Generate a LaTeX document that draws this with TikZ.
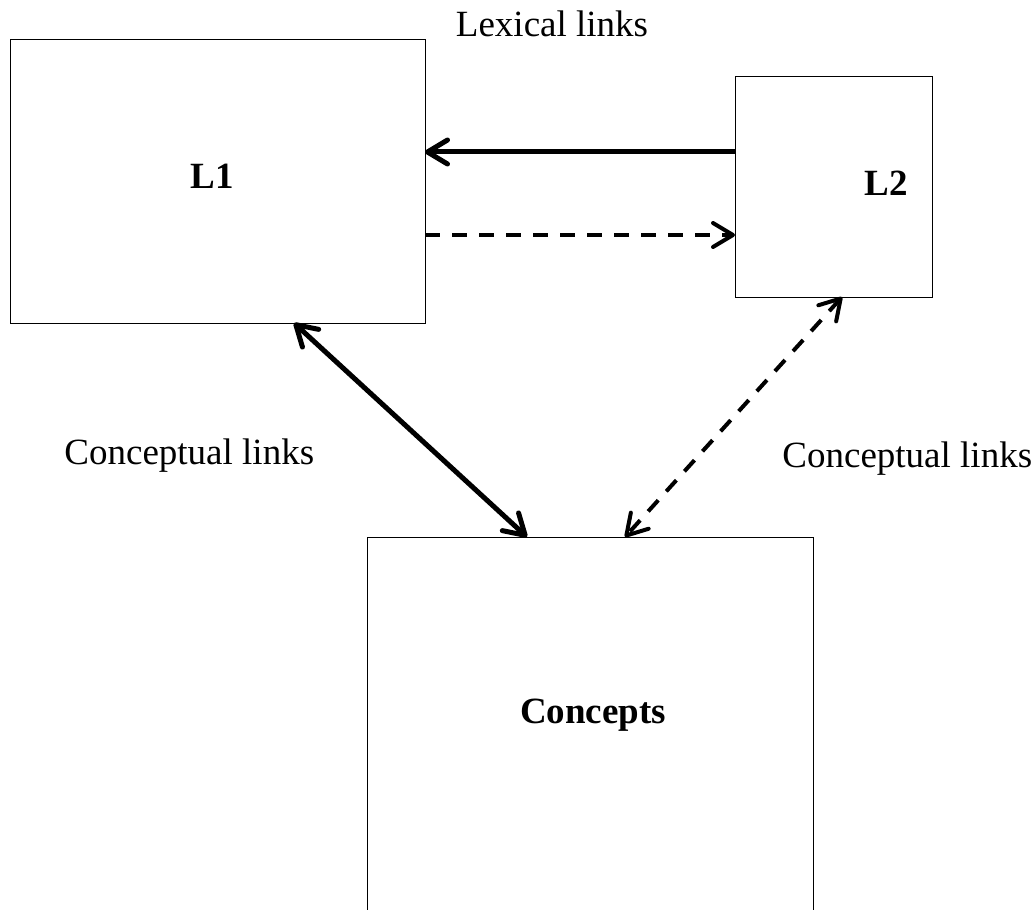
\documentclass[tikz,border=0pt]{standalone}
\usepackage{fontspec}
\setmainfont{Liberation Serif}
\usetikzlibrary{arrows.meta}
\begin{document}
\begin{tikzpicture}[x=0.5pt,y=-0.5pt,
  font=\fontsize{18.5}{22}\selectfont,
  >={Straight Barb[length=10pt,width=12pt,round]},
  box/.style={draw,line width=0.5pt,inner sep=0pt,outer sep=0pt},
  lbl/.style={anchor=base,inner sep=0pt},
  strong/.style={line width=2.5pt},
  weak/.style={line width=2pt,dash pattern=on 7.5pt off 6pt}]
\useasboundingbox (0,0) rectangle (1036,909);
\clip (0,0) rectangle (1036,909);
\node[box,minimum width=207.5pt,minimum height=141.5pt] (L1) at (217.5,181.5) {};
\node[box,minimum width=98.5pt,minimum height=110pt] (L2) at (833.5,187) {};
\node[box,minimum width=223pt,minimum height=210pt] (C) at (590,747) {};
\node[lbl,font=\fontsize{18.5}{22}\selectfont\bfseries] (t1) at (212,188) {L1};
\node[lbl,font=\fontsize{18.5}{22}\selectfont\bfseries] (t2) at (886,195) {L2};
\node[lbl,font=\fontsize{18.5}{22}\selectfont\bfseries] (t3) at (593,723) {Concepts};
\node[lbl] (lex) at (552,37) {Lexical links};
\node[lbl,anchor=base west] (cl1) at (64,464) {Conceptual links};
\node[lbl,anchor=base west] (cl2) at (782,467) {Conceptual links};
\draw[strong,->] (L2.west |- 0,152) -- (L1.east |- 0,152);
\draw[weak,->] (L1.east |- 0,235) -- (L2.west |- 0,235);
\draw[strong,<->] (L1.south -| 294,0) -- (C.north -| 527,0);
\draw[weak,<->] (L2.south -| 842,0) -- (C.north -| 625,0);
\end{tikzpicture}
\end{document}
